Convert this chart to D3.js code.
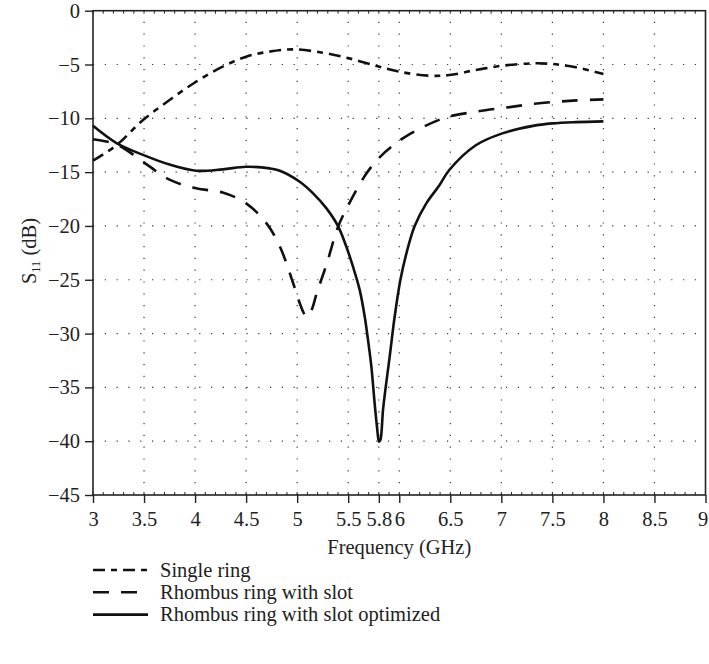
<!DOCTYPE html>
<html>
<head>
<meta charset="utf-8">
<script src="https://cdn.jsdelivr.net/npm/d3@7/dist/d3.min.js"></script>
<style>
  html, body { margin: 0; padding: 0; background: #fff; }
  svg { display: block; }
  text { font-family: "Liberation Serif", "Times New Roman", serif; fill: #222; }
</style>
</head>
<body>
<svg id="chart" width="709" height="664"></svg>
<script>
// Reflection coefficient S11 (dB) versus frequency (GHz) for three antenna designs
const freqSingle = [3.0, 3.23, 3.49, 3.75, 4.01, 4.27, 4.5, 4.73, 4.96, 5.25, 5.51, 5.78, 6.0, 6.3, 6.49, 6.75, 7.01, 7.31, 7.5, 7.73, 8.0];
const s11Single  = [-13.94, -12.5, -10.16, -8.3, -6.6, -5.2, -4.27, -3.8, -3.59, -3.9, -4.43, -5.14, -5.67, -6.04, -5.98, -5.51, -5.11, -4.89, -4.95, -5.26, -5.88];

const freqSlot = [3.0, 3.23, 3.49, 3.75, 4.01, 4.27, 4.5, 4.7, 4.83, 4.96, 5.03, 5.08, 5.11, 5.15, 5.19, 5.29, 5.4, 5.51, 5.68, 5.81, 5.97, 6.07, 6.43, 6.75, 7.05, 7.37, 7.7, 8.0];
const s11Slot  = [-11.95, -12.42, -14.03, -15.7, -16.5, -16.9, -17.9, -19.76, -21.9, -25.3, -27.3, -28.3, -28.4, -27.6, -26.3, -23.5, -20.1, -17.9, -15.1, -13.6, -12.3, -11.65, -10.0, -9.38, -9.0, -8.6, -8.36, -8.24];

const freqOpt = [3.0, 3.23, 3.49, 3.75, 4.01, 4.27, 4.5, 4.73, 4.83, 5.025, 5.156, 5.287, 5.4, 5.482, 5.547, 5.613, 5.662, 5.694, 5.727, 5.759, 5.782, 5.802, 5.815, 5.841, 5.867, 5.906, 5.955, 6.011, 6.07, 6.151, 6.265, 6.395, 6.49, 6.75, 7.01, 7.31, 7.5, 7.73, 8.0];
const s11Opt  = [-10.7, -12.3, -13.4, -14.3, -14.87, -14.74, -14.5, -14.65, -14.87, -15.89, -16.97, -18.37, -20.01, -21.93, -23.79, -25.96, -28.44, -30.6, -33.09, -36.49, -38.66, -40.05, -39.9, -37.1, -35.0, -32.16, -28.44, -25.03, -22.55, -20.0, -17.9, -16.2, -14.8, -12.5, -11.4, -10.7, -10.47, -10.35, -10.28];

const xTicks = [3, 3.5, 4, 4.5, 5, 5.5, 5.8, 6, 6.5, 7, 7.5, 8, 8.5, 9];
const yTicks = [0, -5, -10, -15, -20, -25, -30, -35, -40, -45];

const seriesNames = ["Single ring", "Rhombus ring with slot", "Rhombus ring with slot optimized"];
const seriesDash = ["12,6,6,6", "16,12", null];

const svg = d3.select("#chart");
const plotL = 93, plotR = 705.5, plotT = 10.7, plotB = 495;
const fontSize = 20.5;

const x = d3.scaleLinear().domain([3, 9]).range([plotL, plotR]);
const y = d3.scaleLinear().domain([-45, 0]).range([plotB, plotT]);

const fmt = d => String(d).replace("-", "\u2212");

// dotted grid
const grid = svg.append("g").attr("stroke", "#333").attr("stroke-width", 1.2).attr("stroke-dasharray", "1.2,10.6");
grid.selectAll("line.gx").data(xTicks.filter(d => d > 3 && d < 9)).join("line")
  .attr("x1", d => x(d)).attr("x2", d => x(d)).attr("y1", plotB).attr("y2", plotT);
grid.selectAll("line.gy").data(yTicks.filter(d => d < 0 && d > -45)).join("line")
  .attr("x1", plotL).attr("x2", plotR).attr("y1", d => y(d)).attr("y2", d => y(d));

// minor ticks along top and bottom frame
const minor = d3.range(3, 9.001, 0.1);
svg.append("g").attr("stroke", "#222").attr("stroke-width", 1)
  .selectAll("line").data(minor).join("line")
  .attr("x1", d => x(d)).attr("x2", d => x(d)).attr("y1", plotB).attr("y2", plotB - 3);
svg.append("g").attr("stroke", "#222").attr("stroke-width", 1)
  .selectAll("line").data(minor).join("line")
  .attr("x1", d => x(d)).attr("x2", d => x(d)).attr("y1", plotT).attr("y2", plotT + 3);

// axes
const xAxis = d3.axisBottom(x).tickValues(xTicks).tickFormat(fmt).tickSize(8).tickPadding(8);
const gx = svg.append("g").attr("transform", `translate(0,${plotB})`).call(xAxis);
const yAxis = d3.axisLeft(y).tickValues(yTicks).tickFormat(fmt).tickSize(8).tickPadding(5);
const gy = svg.append("g").attr("transform", `translate(${plotL},0)`).call(yAxis);
[gx, gy].forEach(g => {
  g.select(".domain").remove();
  g.selectAll(".tick line").attr("stroke", "#222").attr("stroke-width", 1.4);
  g.selectAll(".tick text").attr("font-size", fontSize).attr("font-family", "Liberation Serif, serif").attr("fill", "#222");
});
// keep the last frequency label inside the page edge
gx.selectAll(".tick text").filter(d => d === 9).attr("dx", -3);

// frame
svg.append("rect").attr("x", plotL).attr("y", plotT).attr("width", plotR - plotL).attr("height", plotB - plotT)
  .attr("fill", "none").attr("stroke", "#222").attr("stroke-width", 1.6);

// curves
const line = d3.line().x(d => x(d[0])).y(d => y(d[1])).curve(d3.curveCatmullRom.alpha(0.5));
const series = [
  d3.zip(freqSingle, s11Single),
  d3.zip(freqSlot, s11Slot),
  d3.zip(freqOpt, s11Opt)
];
series.forEach((pts, i) => {
  svg.append("path").datum(pts).attr("d", line)
    .attr("fill", "none").attr("stroke", "#111").attr("stroke-width", 2.6)
    .attr("stroke-dasharray", seriesDash[i]);
});

// axis titles
svg.append("text").attr("x", (plotL + plotR) / 2).attr("y", 554).attr("text-anchor", "middle")
  .attr("font-size", fontSize).text("Frequency (GHz)");
const yl = svg.append("text").attr("transform", "translate(36,251) rotate(-90)").attr("text-anchor", "middle")
  .attr("font-size", fontSize);
yl.append("tspan").text("S");
yl.append("tspan").attr("font-size", 12.5).attr("dy", 4).text("11");
yl.append("tspan").attr("dy", -4).text(" (dB)");

// legend
const legend = svg.append("g");
seriesNames.forEach((name, i) => {
  const ly = 570 + i * 22.3;
  legend.append("line").attr("x1", 93).attr("x2", 148).attr("y1", ly).attr("y2", ly)
    .attr("stroke", "#111").attr("stroke-width", 2.6).attr("stroke-dasharray", seriesDash[i]);
  legend.append("text").attr("x", 160).attr("y", ly + 6.5).attr("font-size", fontSize).text(name);
});
</script>
</body>
</html>
